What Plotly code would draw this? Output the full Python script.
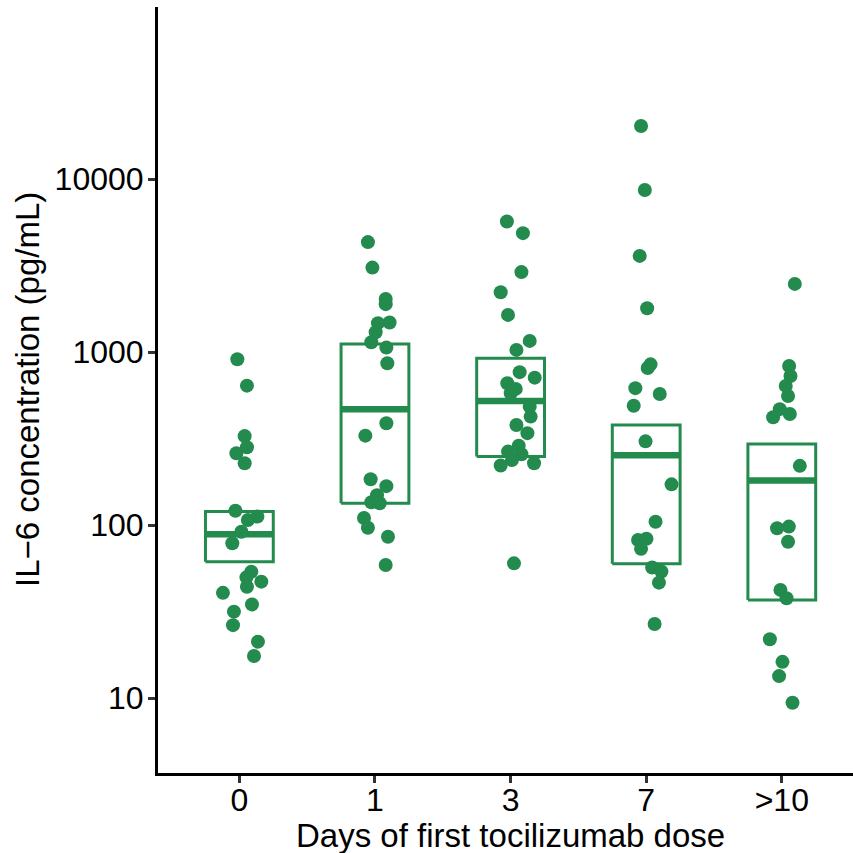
import plotly.graph_objects as go

# Groups on the x axis
categories = ["0", "1", "3", "7", ">10"]

# IL-6 concentration (pg/mL) per group
il6_day0 = [910, 640, 327, 282, 260, 228, 121, 112, 107, 91.6, 78.5,
            53.7, 49.9, 47.1, 44.0, 40.6, 34.8, 31.6, 26.4, 21.2, 17.5]
il6_day1 = [4325, 3080, 2031, 1893, 1482, 1470, 1303, 1141, 1062, 863, 388,
            329, 184, 168, 149, 135.5, 133.7, 110, 96.6, 85.7, 58.8]
il6_day3 = [5690, 4872, 2900, 2220, 1641, 1161, 1030, 766, 712, 661, 613,
            578, 484, 424, 379, 340, 288, 266, 257, 238, 221, 228, 60.1]
il6_day7 = [20280, 8660, 3600, 1792, 850, 810, 619, 573, 490, 305, 172,
            104.5, 82, 83.4, 72.9, 56.9, 53.9, 46.5, 26.8]
il6_day10 = [2480, 832, 728, 638, 558, 468, 439, 420, 220, 95.9, 98,
             80.2, 42.2, 37.8, 21.9, 16.2, 13.4, 9.4]

# Horizontal jitter of each point (category units)
jitter_day0 = [-0.015, 0.056, 0.039, 0.056, -0.022, 0.039, -0.029, 0.133, 0.063, 0.015, -0.052,
               0.088, 0.052, 0.162, 0.056, -0.121, 0.093, -0.040, -0.047, 0.137, 0.108]
jitter_day1 = [-0.052, -0.019, 0.079, 0.079, 0.108, 0.022, 0.005, -0.027, 0.084, 0.091, 0.084,
               -0.071, -0.032, 0.084, 0.015, -0.027, 0.035, -0.081, -0.052, 0.096, 0.079]
jitter_day3 = [-0.027, 0.091, 0.080, -0.073, -0.019, 0.141, 0.043, 0.067, 0.178, -0.024, 0.038,
               0.001, 0.141, 0.148, 0.043, 0.124, 0.060, -0.019, 0.080, 0.010, -0.073, 0.173, 0.025]
jitter_day7 = [-0.038, -0.010, -0.048, 0.007, 0.032, 0.011, -0.080, 0.100, -0.092, -0.005, 0.187,
               0.069, -0.060, 0.002, -0.038, 0.044, 0.112, 0.094, 0.062]
jitter_day10 = [0.096, 0.054, 0.064, 0.029, 0.046, -0.015, 0.059, -0.064, 0.133, -0.035, 0.052,
                0.046, -0.010, 0.035, -0.088, 0.005, -0.020, 0.079]

# Crossbar summary per group: lower edge, centre line, upper edge
box_low = [61.4, 133.7, 249, 59.8, 36.9]
box_mid = [88.5, 468, 522, 253, 181]
box_high = [120, 1115, 922, 379, 294]

GREEN = "#228B4D"
BOX_HALF = 0.25

groups = [il6_day0, il6_day1, il6_day3, il6_day7, il6_day10]
jitters = [jitter_day0, jitter_day1, jitter_day3, jitter_day7, jitter_day10]

fig = go.Figure()

# crossbar rectangles
bx, by = [], []
for i in range(len(categories)):
    bx += [i - BOX_HALF, i + BOX_HALF, i + BOX_HALF, i - BOX_HALF, i - BOX_HALF, None]
    by += [box_low[i], box_low[i], box_high[i], box_high[i], box_low[i], None]
fig.add_trace(go.Scatter(x=bx, y=by, mode="lines",
                         line=dict(color=GREEN, width=3), hoverinfo="skip",
                         showlegend=False))

# centre lines
mx, my = [], []
for i in range(len(categories)):
    mx += [i - BOX_HALF, i + BOX_HALF, None]
    my += [box_mid[i], box_mid[i], None]
fig.add_trace(go.Scatter(x=mx, y=my, mode="lines",
                         line=dict(color=GREEN, width=6.5), hoverinfo="skip",
                         showlegend=False))

# jittered points
for i, (vals, jit) in enumerate(zip(groups, jitters)):
    fig.add_trace(go.Scatter(
        x=[i + j for j in jit], y=vals, mode="markers",
        marker=dict(color=GREEN, size=14, line=dict(width=0)),
        name=categories[i], showlegend=False))

FONT = "Liberation Sans, Arial, sans-serif"

fig.update_layout(
    width=853, height=853,
    margin=dict(l=158, r=0, t=7, b=80),
    plot_bgcolor="white", paper_bgcolor="white",
    font=dict(family=FONT, color="black"),
    xaxis=dict(
        range=[-0.6, 4.525],
        tickmode="array", tickvals=list(range(len(categories))), ticktext=categories,
        showgrid=False, zeroline=False,
        showline=True, linecolor="black", linewidth=3,
        ticks="outside", ticklen=7, tickwidth=2.5, tickcolor="#333333",
        ticklabelstandoff=-10,
        tickfont=dict(size=32, color="black", family=FONT),
    ),
    yaxis=dict(
        type="log", range=[0.567, 4.995],
        tickmode="array", tickvals=[10, 100, 1000, 10000],
        ticktext=["10", "100", "1000", "10000"],
        showgrid=False, zeroline=False,
        showline=True, linecolor="black", linewidth=3,
        ticks="outside", ticklen=7, tickwidth=2.5, tickcolor="#333333",
        ticklabelstandoff=-2,
        tickfont=dict(size=32, color="black", family=FONT),
    ),
    annotations=[
        dict(text="Days of first tocilizumab dose", xref="x", yref="paper",
             x=2, y=0, xanchor="center", yanchor="middle", yshift=-62,
             showarrow=False, font=dict(size=33, color="black", family=FONT)),
        dict(text="IL\u22126 concentration (pg/mL)", xref="paper", yref="paper",
             x=0, y=0.5, xanchor="center", yanchor="middle", xshift=-131,
             textangle=-90, showarrow=False,
             font=dict(size=33, color="black", family=FONT)),
    ],
)

fig.write_html("out.html")
